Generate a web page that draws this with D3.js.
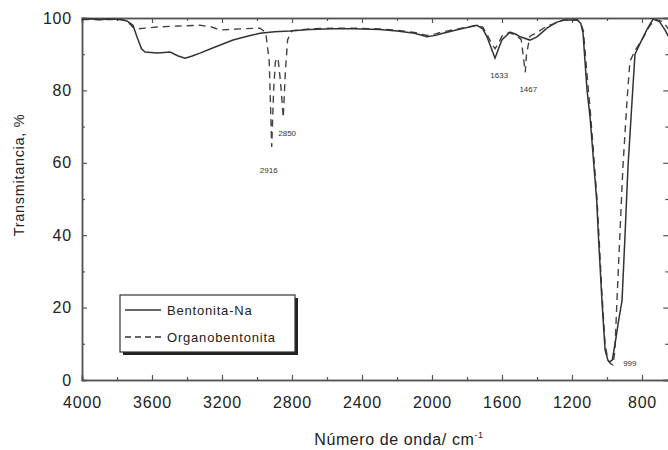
<!DOCTYPE html>
<html><head><meta charset="utf-8">
<script src="https://cdn.jsdelivr.net/npm/d3@7"></script>
<style>
body{margin:0;background:#fff;}
svg{display:block;font-family:"Liberation Sans",Arial,sans-serif;}
</style></head>
<body><svg id="chart" width="668" height="450"></svg>
<script>
// Data
const seriesNames = ["Bentonita-Na", "Organobentonita"];
const solidWave = [4000,3950,3900,3850,3780,3743,3709,3686,3660,3640,3571,3530,3497,3450,3411,3370,3326,3250,3137,3050,2983,2900,2811,2700,2566,2450,2300,2200,2100,2029,1980,1937,1850,1743,1710,1686,1660,1640,1620,1600,1554,1520,1497,1440,1400,1343,1290,1251,1171,1150,1137,1114,1097,1059,1050,1029,1011,995,985,970,954,935,914,897,880,857,840,811,770,737,700,669,650];
const solidVal  = [99.6,99.8,99.5,99.7,99.6,99.2,98,94.8,91.5,90.6,90.3,90.5,90.6,89.5,88.9,89.5,90.3,91.8,93.9,95,95.8,96.2,96.4,96.8,97,97,96.8,96.4,95.8,94.8,95.2,95.8,96.8,98,97,94.8,91.5,88.9,91.5,94,96.1,95.5,94.8,93.9,94.8,97.2,98.8,99.4,99.5,98.5,95.8,80,72.7,49.7,40.6,22,8.3,5.5,5,5.5,10,16,22,40,59,77,90,93,97,99.7,99,96.7,95];
const dashWave  = [4000,3900,3780,3743,3710,3680,3640,3571,3450,3326,3260,3211,3097,2983,2950,2930,2916,2905,2895,2880,2865,2850,2838,2825,2800,2700,2566,2450,2300,2200,2100,2029,1980,1937,1850,1743,1710,1686,1660,1640,1620,1600,1560,1520,1490,1475,1467,1460,1440,1400,1343,1290,1251,1171,1150,1135,1110,1095,1057,1029,1011,995,980,966,955,943,926,909,886,869,840,800,754,720,680,650];
const dashVal   = [99.6,99.6,99.6,99.2,97.5,97,97.2,97.5,97.8,98,97.5,96.7,97,97.2,96,88,64.4,80,88,89,82,72.5,85,94,96.5,97,97.2,97.2,97,96.6,96,95.2,95.6,96.2,97,98,97.5,95.5,93,91.5,93,95,96,95.2,94,88,85,90,95,96,97.8,98.6,99.4,99.5,98.5,96.5,82,74,50,24,10,5.5,4.5,4.2,8,22,40.6,58.8,77,88,91,94,98,99.6,99,97];
const xMajor = [4000,3600,3200,2800,2400,2000,1600,1200,800];
const xMinor = [3800,3400,3000,2600,2200,1800,1400,1000];
const yMajor = [0,20,40,60,80,100];
const yMinor = [10,30,50,70,90];
const peakLabels = ["2916","2850","1633","1467","999"];
const peakWave = [2916,2850,1633,1467,999];
const peakVal  = [64.4,72.5,88.9,85,5];

const svg = d3.select("#chart");
const x = d3.scaleLinear().domain([4000,650]).range([82,668.25]);
const y = d3.scaleLinear().domain([0,100]).range([380,18]);
const axisColor = "#555";
const lineColor = "#333";

// clip
svg.append("clipPath").attr("id","clip").append("rect")
  .attr("x",82).attr("y",17).attr("width",590).attr("height",364);

function styleAxis(g){
  g.select(".domain").attr("stroke",axisColor).attr("stroke-width",1.5);
  g.selectAll(".tick line").attr("stroke",axisColor).attr("stroke-width",1.2);
  g.selectAll("text").attr("fill","#222").style("font-size","16px").style("letter-spacing","0.8px");
}

// bottom axis
svg.append("g").attr("transform","translate(0,380)")
  .call(d3.axisBottom(x).tickValues(xMajor).tickSize(-5).tickPadding(17).tickFormat(d3.format("d")))
  .call(styleAxis);
svg.append("g").attr("transform","translate(0,380)")
  .call(d3.axisBottom(x).tickValues(xMinor).tickSize(-3).tickFormat(""))
  .call(styleAxis);
// top axis
svg.append("g").attr("transform","translate(0,18)")
  .call(d3.axisTop(x).tickValues(xMajor).tickSize(-5).tickFormat(""))
  .call(styleAxis);
svg.append("g").attr("transform","translate(0,18)")
  .call(d3.axisTop(x).tickValues(xMinor).tickSize(-3).tickFormat(""))
  .call(styleAxis);
// left axis
svg.append("g").attr("transform","translate(82,0)")
  .call(d3.axisLeft(y).tickValues(yMajor).tickSize(-5).tickPadding(10))
  .call(styleAxis);
svg.append("g").attr("transform","translate(82,0)")
  .call(d3.axisLeft(y).tickValues(yMinor).tickSize(-3).tickFormat(""))
  .call(styleAxis);
// right axis
svg.append("g").attr("transform","translate(668.25,0)")
  .call(d3.axisRight(y).tickValues(yMajor).tickSize(-5).tickFormat(""))
  .call(styleAxis);
svg.append("g").attr("transform","translate(668.25,0)")
  .call(d3.axisRight(y).tickValues(yMinor).tickSize(-3).tickFormat(""))
  .call(styleAxis);

// lines
const line = d3.line().x(d=>x(d[0])).y(d=>y(d[1]));
const solidData = solidWave.map((w,i)=>[w,solidVal[i]]);
const dashData = dashWave.map((w,i)=>[w,dashVal[i]]);
const plot = svg.append("g").attr("clip-path","url(#clip)");
plot.append("path").datum(dashData).attr("d",line)
  .attr("fill","none").attr("stroke","#444").attr("stroke-width",1.4).attr("stroke-dasharray","7,5");
plot.append("path").datum(solidData).attr("d",line)
  .attr("fill","none").attr("stroke",lineColor).attr("stroke-width",1.5);

// peak labels
const off = [[-3,26,"middle"],[-5,18,"start"],[3,20,"middle"],[3,20,"middle"],[16,4,"start"]];
svg.append("g").selectAll("text").data(peakLabels).join("text")
  .attr("x",(d,i)=>x(peakWave[i])+off[i][0])
  .attr("y",(d,i)=>y(peakVal[i])+off[i][1])
  .attr("text-anchor",(d,i)=>off[i][2])
  .style("font-size","8px").attr("fill","#333")
  .text(d=>d);

// axis titles
svg.append("text")
  .attr("transform","translate(24,175) rotate(-90)")
  .attr("text-anchor","middle")
  .style("font-size","14.5px").style("letter-spacing","0.7px").attr("fill","#222")
  .text("Transmitancia, %");
const xt = svg.append("text").attr("x",399).attr("y",445).attr("text-anchor","middle")
  .style("font-size","16px").style("letter-spacing","0.6px").attr("fill","#222");
xt.append("tspan").text("Número de onda/ cm");
xt.append("tspan").attr("dy",-7).style("font-size","9px").text("-1");

// legend
const lg = svg.append("g");
lg.append("rect").attr("x",123).attr("y",298).attr("width",175).attr("height",57).attr("fill","#222");
lg.append("rect").attr("x",120).attr("y",295).attr("width",175).attr("height",57)
  .attr("fill","#fff").attr("stroke","#333").attr("stroke-width",1.2);
const entries = seriesNames.map((n,i)=>({name:n, dash: i===0 ? null : "6,4"}));
entries.forEach((e,i)=>{
  const yy = 310 + i*27;
  lg.append("line").attr("x1",125).attr("x2",161).attr("y1",yy).attr("y2",yy)
    .attr("stroke","#333").attr("stroke-width",1.3).attr("stroke-dasharray",e.dash);
  lg.append("text").attr("x",167).attr("y",yy+4.5)
    .style("font-size","13px").style("letter-spacing","0.8px").attr("fill","#222").text(e.name);
});
</script></body></html>
